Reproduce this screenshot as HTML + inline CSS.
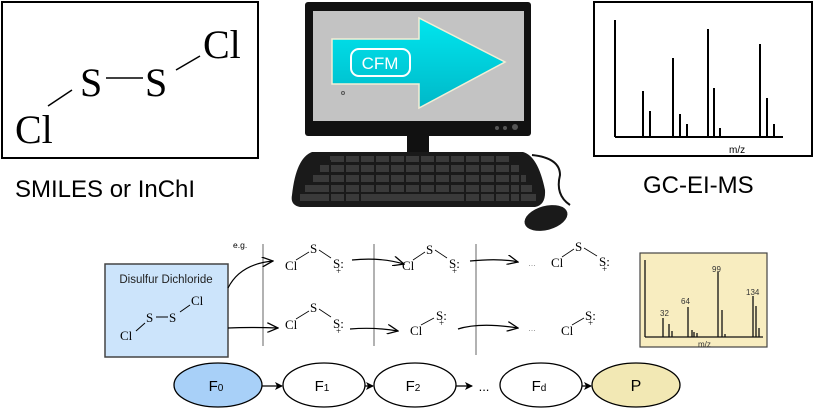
<!DOCTYPE html>
<html><head><style>body{margin:0;background:#fff}svg{display:block}</style></head><body>
<svg width="815" height="419" viewBox="0 0 815 419" xmlns="http://www.w3.org/2000/svg">
<defs>
<marker id="ah" markerWidth="8" markerHeight="8" refX="7" refY="4" orient="auto" markerUnits="userSpaceOnUse"><path d="M0,0 L8,4 L0,8 L2,4 Z" fill="#000"/></marker>
<marker id="oh" markerWidth="12" markerHeight="10" refX="11" refY="5" orient="auto" markerUnits="userSpaceOnUse"><path d="M0,0 L11,5 L0,10" fill="none" stroke="#000" stroke-width="1.3"/></marker>
<linearGradient id="cy" x1="0" y1="0" x2="0" y2="1"><stop offset="0" stop-color="#00e6ee"/><stop offset="1" stop-color="#00b8c8"/></linearGradient>
</defs>
<!-- left box -->
<rect x="2" y="2" width="256" height="156" fill="#fff" stroke="#000" stroke-width="2"/>
<g font-family="Liberation Serif, serif" font-size="40">
<text x="15" y="143">Cl</text><text x="80" y="96">S</text><text x="145" y="96">S</text><text x="203" y="58">Cl</text></g>
<g stroke="#000" stroke-width="1.5"><line x1="48" y1="106" x2="72" y2="90"/><line x1="106" y1="78" x2="143" y2="78"/><line x1="176" y1="70" x2="200" y2="56"/></g>
<text x="15" y="197" font-family="Liberation Sans, sans-serif" font-size="24">SMILES or InChI</text>
<!-- right box -->
<rect x="594" y="2" width="218" height="154" fill="#fff" stroke="#000" stroke-width="2"/>
<g stroke="#000" stroke-width="2">
<line x1="615" y1="137" x2="783" y2="137"/>
<line x1="615" y1="137" x2="615" y2="20"/><line x1="643" y1="137" x2="643" y2="91"/><line x1="650" y1="137" x2="650" y2="111"/>
<line x1="673" y1="137" x2="673" y2="58"/><line x1="680" y1="137" x2="680" y2="114"/><line x1="687" y1="137" x2="687" y2="124"/>
<line x1="708" y1="137" x2="708" y2="29"/><line x1="714" y1="137" x2="714" y2="88"/><line x1="720" y1="137" x2="720" y2="128"/>
<line x1="760" y1="137" x2="760" y2="44"/><line x1="767" y1="137" x2="767" y2="98"/><line x1="774" y1="137" x2="774" y2="124"/></g>
<text x="729" y="153" font-family="Liberation Sans, sans-serif" font-size="10">m/z</text>
<text x="643" y="193" font-family="Liberation Sans, sans-serif" font-size="24">GC-EI-MS</text>
<!-- computer -->
<rect x="305" y="2" width="226" height="134" rx="3" fill="#111"/>
<rect x="313" y="11" width="211" height="110" fill="#c3c3c3"/>
<circle cx="497" cy="128" r="2" fill="#555"/><circle cx="505" cy="128" r="2" fill="#555"/><circle cx="515" cy="127" r="3" fill="#555"/>
<polygon points="332,39 419,39 419,18 505,62 419,108 419,84 332,84" fill="url(#cy)" stroke="#f3eed5" stroke-width="1.5"/>
<rect x="351" y="49" width="59" height="27" rx="8" fill="none" stroke="#fff" stroke-width="2"/>
<text x="380" y="69" text-anchor="middle" font-family="Liberation Sans, sans-serif" font-size="17" fill="#fff">CFM</text>
<circle cx="343" cy="93" r="1.5" fill="none" stroke="#555"/>
<rect x="407" y="135" width="22" height="17" fill="#111"/>
<path d="M312,152 L523,152 Q538,156 545,190 Q546,205 535,207 L300,207 Q290,205 292,195 Q296,158 312,152 Z" fill="#1a1a1a"/>
<g fill="#3a3a3a">
<rect x="330" y="156" width="180" height="6"/><rect x="320" y="165" width="200" height="7"/><rect x="313" y="175" width="213" height="7"/><rect x="305" y="185" width="227" height="7"/><rect x="300" y="194" width="236" height="7"/></g>
<g stroke="#1a1a1a" stroke-width="2">
<line x1="345" y1="155" x2="345" y2="202"/><line x1="360" y1="155" x2="360" y2="202"/><line x1="375" y1="155" x2="375" y2="192"/><line x1="390" y1="155" x2="390" y2="192"/><line x1="405" y1="155" x2="405" y2="192"/><line x1="420" y1="155" x2="420" y2="192"/><line x1="435" y1="155" x2="435" y2="192"/><line x1="450" y1="155" x2="450" y2="192"/><line x1="465" y1="155" x2="465" y2="202"/><line x1="480" y1="155" x2="480" y2="202"/><line x1="495" y1="155" x2="495" y2="202"/><line x1="510" y1="155" x2="510" y2="202"/><line x1="330" y1="160" x2="330" y2="202"/><line x1="520" y1="160" x2="520" y2="202"/></g>
<path d="M532,155 Q560,158 560,175 Q555,195 570,205" fill="none" stroke="#111" stroke-width="2"/>
<ellipse cx="546" cy="218" rx="22" ry="12" fill="#1a1a1a" transform="rotate(-15 546 218)"/>
<!-- bottom section -->
<rect x="105" y="264" width="123" height="93" fill="#cce4fb" stroke="#444" stroke-width="1.5"/>
<text x="166" y="283" text-anchor="middle" font-family="Liberation Sans, sans-serif" font-size="11.5" fill="#222">Disulfur Dichloride</text>
<g font-family="Liberation Serif, serif" font-size="13"><text x="120" y="340">Cl</text><text x="146" y="322">S</text><text x="169" y="322">S</text><text x="191" y="305">Cl</text></g>
<g stroke="#000" stroke-width="1"><line x1="136" y1="331" x2="145" y2="323"/><line x1="156" y1="317" x2="168" y2="317"/><line x1="180" y1="312" x2="190" y2="305"/></g>
<text x="233" y="248" font-family="Liberation Sans, sans-serif" font-size="8.5">e.g.</text>
<g stroke="#888" stroke-width="1.3"><line x1="263" y1="244" x2="263" y2="346"/><line x1="374" y1="244" x2="374" y2="346"/><line x1="476" y1="244" x2="476" y2="355"/></g>
<g fill="none" stroke="#000" stroke-width="1.2" marker-end="url(#oh)">
<path d="M228,288 Q240,264 273,261"/><path d="M228,328 Q250,327 278,328"/>
<path d="M352,260 Q380,257 404,264"/><path d="M350,329 Q375,327 398,331"/>
<path d="M470,261 Q500,258 518,262"/><path d="M458,329 Q480,322 518,328"/></g>
<g font-family="Liberation Serif, serif" font-size="13">
<text x="285" y="270">Cl</text><text x="310" y="253">S</text><text x="333" y="268">S:</text><text x="336" y="274" font-size="9">+</text>
<text x="402" y="270">Cl</text><text x="426" y="254">S</text><text x="449" y="268">S:</text><text x="452" y="274" font-size="9">+</text>
<text x="551" y="267">Cl</text><text x="575" y="251">S</text><text x="599" y="266">S:</text><text x="602" y="272" font-size="9">+</text>
<text x="285" y="329">Cl</text><text x="310" y="312">S</text><text x="333" y="328">S:</text><text x="336" y="334" font-size="9">+</text>
<text x="410" y="335">Cl</text><text x="436" y="320">S:</text><text x="439" y="326" font-size="9">+</text>
<text x="561" y="335">Cl</text><text x="585" y="320">S:</text><text x="588" y="326" font-size="9">+</text></g>
<g font-family="Liberation Sans, sans-serif" font-size="8" fill="#777"><text x="528" y="266">…</text><text x="528" y="331">…</text></g>
<g stroke="#000" stroke-width="0.8"><line x1="296" y1="260" x2="309" y2="252"/><line x1="319" y1="250" x2="331" y2="258"/><line x1="413" y1="260" x2="425" y2="252"/><line x1="435" y1="250" x2="447" y2="258"/><line x1="562" y1="257" x2="574" y2="249"/><line x1="584" y1="248" x2="597" y2="256"/><line x1="296" y1="319" x2="309" y2="311"/><line x1="319" y1="309" x2="331" y2="317"/><line x1="421" y1="325" x2="434" y2="318"/><line x1="572" y1="325" x2="584" y2="318"/></g>
<!-- product spectrum -->
<rect x="640" y="253" width="127" height="94" fill="#f8edc0" stroke="#444" stroke-width="1.2"/>
<g stroke="#111" stroke-width="1.3">
<line x1="645" y1="337" x2="763" y2="337"/><line x1="645" y1="337" x2="645" y2="260"/>
<line x1="663" y1="337" x2="663" y2="318"/><line x1="669" y1="337" x2="669" y2="324"/><line x1="672" y1="337" x2="672" y2="331"/>
<line x1="688" y1="337" x2="688" y2="307"/><line x1="692" y1="337" x2="692" y2="330"/><line x1="694" y1="337" x2="694" y2="332"/><line x1="697" y1="337" x2="697" y2="333"/>
<line x1="718" y1="337" x2="718" y2="272"/><line x1="722" y1="337" x2="722" y2="310"/><line x1="725" y1="337" x2="725" y2="334"/>
<line x1="753" y1="337" x2="753" y2="296"/><line x1="756" y1="337" x2="756" y2="306"/><line x1="759" y1="337" x2="759" y2="328"/></g>
<g font-family="Liberation Sans, sans-serif" font-size="8" fill="#333"><text x="660" y="316">32</text><text x="681" y="304">64</text><text x="712" y="272">99</text><text x="746" y="295">134</text><text x="698" y="347">m/z</text></g>
<!-- chain -->
<g stroke="#000" stroke-width="1.3">
<ellipse cx="218" cy="385" rx="44" ry="22" fill="#a8d0f8"/>
<ellipse cx="324" cy="385" rx="41" ry="22" fill="#fff"/>
<ellipse cx="415" cy="385" rx="41" ry="22" fill="#fff"/>
<ellipse cx="541" cy="385" rx="41" ry="22" fill="#fff"/>
<ellipse cx="636" cy="385" rx="44" ry="22" fill="#f2e8b4"/></g>
<g stroke="#000" stroke-width="1.3" marker-end="url(#ah)">
<line x1="262" y1="386" x2="282" y2="386"/><line x1="365" y1="386" x2="373" y2="386"/><line x1="456" y1="386" x2="472" y2="386"/><line x1="582" y1="386" x2="591" y2="386"/></g>
<g font-family="Liberation Sans, sans-serif" font-size="15" text-anchor="middle">
<text x="216" y="391">F<tspan font-size="10">0</tspan></text><text x="322" y="391">F<tspan font-size="10">1</tspan></text><text x="413" y="391">F<tspan font-size="10">2</tspan></text><text x="539" y="391">F<tspan font-size="10">d</tspan></text><text x="636" y="391" font-size="16">P</text><text x="484" y="391" font-size="13">...</text></g>
</svg>
</body></html>
